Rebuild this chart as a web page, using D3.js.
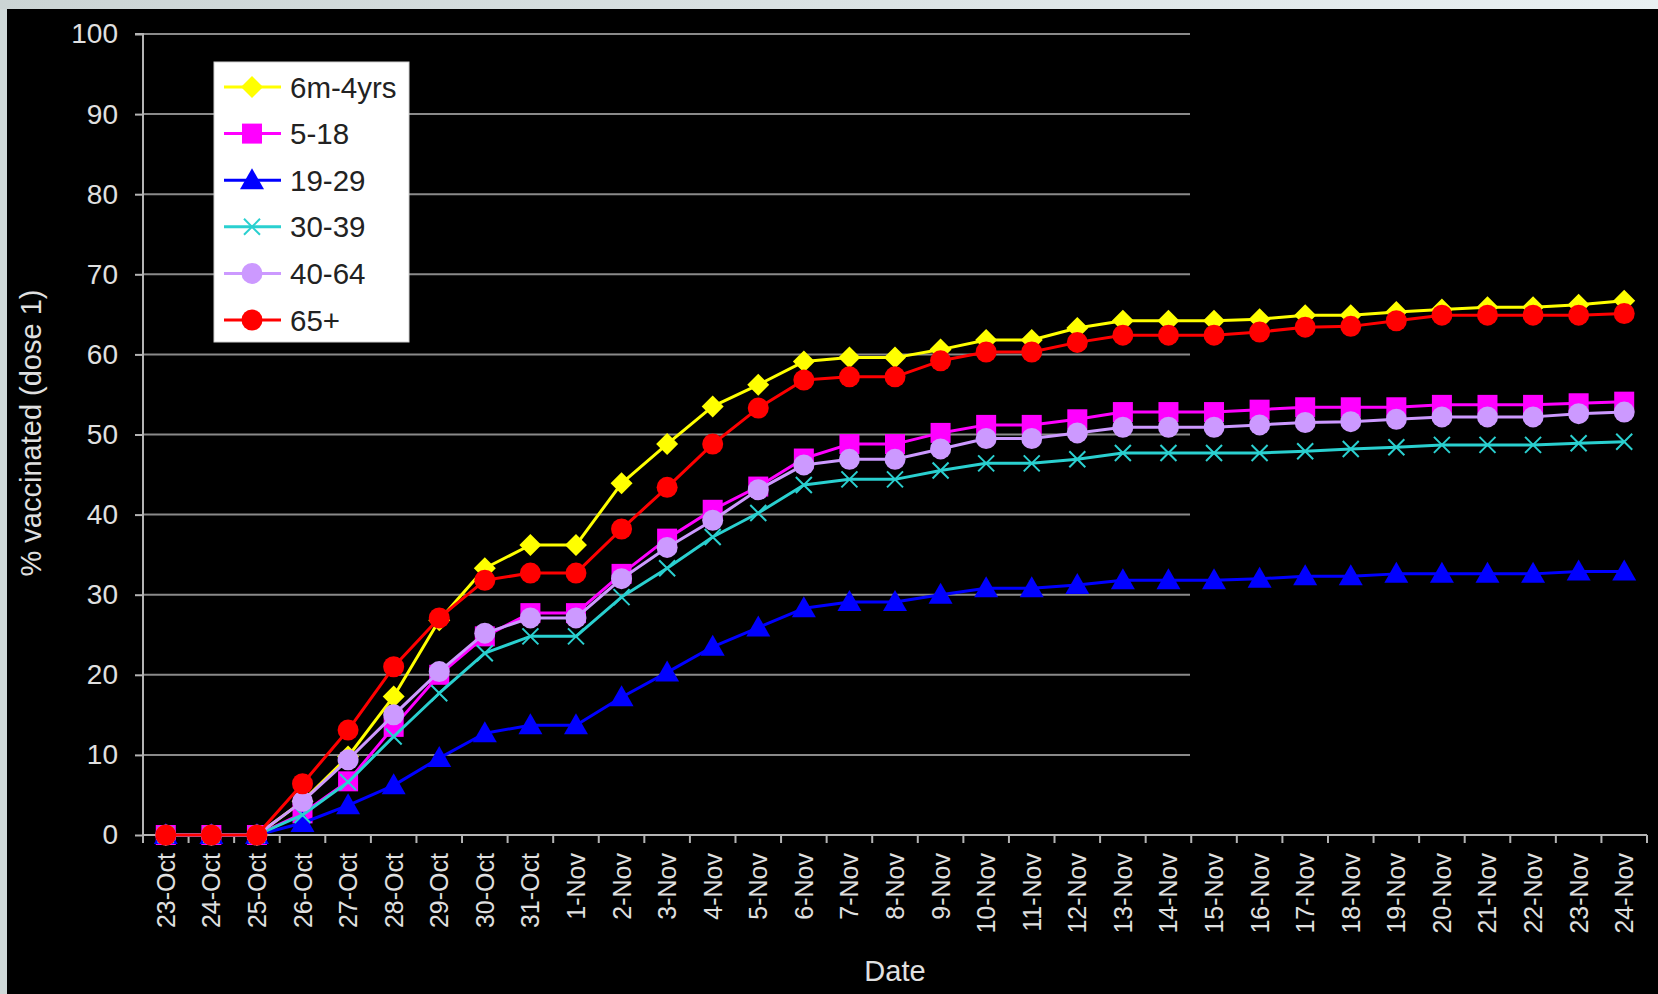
<!DOCTYPE html>
<html>
<head>
<meta charset="utf-8">
<script src="https://cdn.jsdelivr.net/npm/d3@7"></script>
<style>
  html, body { margin: 0; padding: 0; background: #cfd8d8; }
  svg { display: block; font-family: "Liberation Sans", Arial, Helvetica, sans-serif; }
</style>
</head>
<body>
<svg id="chart" width="1658" height="994"></svg>
<script>
// ---- data ----
const dates = ["23-Oct","24-Oct","25-Oct","26-Oct","27-Oct","28-Oct","29-Oct","30-Oct","31-Oct",
  "1-Nov","2-Nov","3-Nov","4-Nov","5-Nov","6-Nov","7-Nov","8-Nov","9-Nov","10-Nov","11-Nov","12-Nov",
  "13-Nov","14-Nov","15-Nov","16-Nov","17-Nov","18-Nov","19-Nov","20-Nov","21-Nov","22-Nov","23-Nov","24-Nov"];

const seriesNames = ["6m-4yrs","5-18","19-29","30-39","40-64","65+"];

const age6m4 = [0,0,0,4.2,9.8,17.3,26.8,33.3,36.2,36.2,43.9,48.8,53.5,56.2,59.1,59.6,59.6,60.6,61.8,61.8,63.3,64.2,64.2,64.2,64.4,64.9,64.9,65.3,65.6,65.9,65.9,66.2,66.7];
const age5to18 = [0,0,0,2.7,6.7,13.5,20.0,24.8,27.7,27.7,32.6,37.0,40.6,43.5,47.0,48.8,48.8,50.2,51.2,51.2,51.9,52.8,52.8,52.8,53.1,53.4,53.4,53.4,53.7,53.7,53.7,53.9,54.1];
const age19to29 = [0,0,0,1.5,3.7,6.2,9.6,12.7,13.7,13.7,17.2,20.3,23.5,25.9,28.3,29.1,29.1,30.0,30.8,30.8,31.2,31.8,31.8,31.8,32.0,32.3,32.3,32.6,32.6,32.6,32.6,32.9,32.9];
const age30to39 = [0,0,0,2.5,6.6,12.3,17.7,22.7,24.8,24.8,29.7,33.3,37.2,40.2,43.7,44.4,44.4,45.5,46.4,46.4,46.9,47.7,47.7,47.7,47.7,47.9,48.2,48.4,48.7,48.7,48.7,48.9,49.1];
const age40to64 = [0,0,0,4.2,9.4,15.0,20.4,25.2,27.1,27.1,32.0,35.9,39.3,43.1,46.2,46.9,46.9,48.2,49.5,49.5,50.2,50.9,50.9,50.9,51.2,51.5,51.6,51.9,52.2,52.2,52.2,52.6,52.8];
const age65plus = [0,0,0,6.4,13.1,21.0,27.1,31.8,32.7,32.7,38.2,43.4,48.8,53.3,56.8,57.2,57.2,59.2,60.3,60.3,61.5,62.4,62.4,62.4,62.8,63.4,63.5,64.2,64.9,64.9,64.9,64.9,65.1];

const yTicks = [0,10,20,30,40,50,60,70,80,90,100];
const yTitle = "% vaccinated (dose 1)";
const xTitle = "Date";

(function () {
// ---- styles ----
const seriesValues = [age6m4, age5to18, age19to29, age30to39, age40to64, age65plus];
const colors = ["#ffff00", "#ff00ff", "#0000ff", "#2ad0d0", "#cc99ff", "#ff0000"];
const shapes = ["diamond", "square", "triangle", "x", "circle", "circle"];

const W = 1658, H = 994;
const svg = d3.select("#chart");

// frame
svg.append("rect").attr("x", 0).attr("y", 0).attr("width", W).attr("height", H).attr("fill", "#cfd8d8");
const topGrad = svg.append("defs").append("linearGradient").attr("id", "tg");
topGrad.append("stop").attr("offset", "0%").attr("stop-color", "#cbd4d4");
topGrad.append("stop").attr("offset", "100%").attr("stop-color", "#e9f0f2");
svg.append("rect").attr("x", 0).attr("y", 0).attr("width", W).attr("height", 9).attr("fill", "url(#tg)");
svg.append("rect").attr("x", 7).attr("y", 9).attr("width", W - 7).attr("height", H - 9).attr("fill", "#000");

const pLeft = 143, pRight = 1647, pTop = 34, pBottom = 835;
const x = d3.scaleBand().domain(dates).range([pLeft, pRight]).paddingInner(0).paddingOuter(0);
const y = d3.scaleLinear().domain([0, 100]).range([pBottom, pTop]);
const cx = d => x(d) + x.bandwidth() / 2;

// gridlines (stop short as in the original)
svg.append("g").selectAll("line").data(yTicks.filter(t => t > 0)).join("line")
  .attr("x1", pLeft).attr("x2", 1190)
  .attr("y1", d => y(d)).attr("y2", d => y(d))
  .attr("stroke", "#8a8a8a").attr("stroke-width", 2);

// y axis
const yAxis = d3.axisLeft(y).tickValues(yTicks).tickSize(8).tickPadding(17).tickFormat(d3.format("d"));
const gy = svg.append("g").attr("transform", `translate(${pLeft},0)`).call(yAxis);
gy.select(".domain").attr("stroke", "#b4b4b4").attr("stroke-width", 2).attr("d", `M-8,${pTop}H0V${pBottom}`);
gy.selectAll(".tick line").attr("stroke", "#b4b4b4").attr("stroke-width", 2);
gy.selectAll(".tick text").attr("fill", "#e0e0e0").attr("font-size", 28).attr("font-family", "Liberation Sans, Arial, sans-serif");

// x axis
const xAxis = d3.axisBottom(x).tickSize(0).tickPadding(0);
const gx = svg.append("g").attr("transform", `translate(0,${pBottom})`).call(xAxis);
gx.select(".domain").attr("stroke", "#b4b4b4").attr("stroke-width", 2).attr("d", `M${pLeft},0H${pRight}`);
gx.selectAll(".tick text")
  .attr("fill", "#e0e0e0").attr("font-size", 25).attr("font-family", "Liberation Sans, Arial, sans-serif")
  .attr("text-anchor", "end").attr("dominant-baseline", "central")
  .attr("transform", "translate(0,18) rotate(-90)").attr("x", 0).attr("y", 0).attr("dy", null);
// tick marks between categories
const boundaries = dates.map(d => x(d)).concat([pRight]);
svg.append("g").selectAll("line").data(boundaries).join("line")
  .attr("x1", d => d).attr("x2", d => d).attr("y1", pBottom).attr("y2", pBottom + 8)
  .attr("stroke", "#b4b4b4").attr("stroke-width", 2);

// titles
svg.append("text").attr("transform", `translate(31,433) rotate(-90)`)
  .attr("text-anchor", "middle").attr("dominant-baseline", "central")
  .attr("fill", "#e0e0e0").attr("font-size", 29).text(yTitle);
svg.append("text").attr("x", 895).attr("y", 981)
  .attr("text-anchor", "middle").attr("fill", "#e0e0e0").attr("font-size", 29).text(xTitle);

// marker drawing
function drawMarker(g, shape, color, px, py) {
  if (shape === "diamond") {
    g.append("path").attr("d", `M${px},${py - 11}L${px + 11},${py}L${px},${py + 11}L${px - 11},${py}Z`).attr("fill", color);
  } else if (shape === "square") {
    g.append("rect").attr("x", px - 10).attr("y", py - 10).attr("width", 20).attr("height", 20).attr("fill", color);
  } else if (shape === "triangle") {
    g.append("path").attr("d", `M${px},${py - 12}L${px + 12},${py + 9}L${px - 12},${py + 9}Z`).attr("fill", color);
  } else if (shape === "x") {
    g.append("path").attr("d", `M${px - 8},${py - 8}L${px + 8},${py + 8}M${px - 8},${py + 8}L${px + 8},${py - 8}`)
      .attr("stroke", color).attr("stroke-width", 2);
  } else {
    g.append("circle").attr("cx", px).attr("cy", py).attr("r", 10.5).attr("fill", color);
  }
}

// series
const line = d3.line().x((v, i) => cx(dates[i])).y(v => y(v));
seriesValues.forEach((vals, s) => {
  const g = svg.append("g");
  g.append("path").datum(vals).attr("d", line).attr("fill", "none")
    .attr("stroke", colors[s]).attr("stroke-width", 3).attr("stroke-linejoin", "round");
  vals.forEach((v, i) => drawMarker(g, shapes[s], colors[s], cx(dates[i]), y(v)));
});

// legend
const lg = svg.append("g");
lg.append("rect").attr("x", 214).attr("y", 62).attr("width", 195).attr("height", 280)
  .attr("fill", "#ffffff").attr("stroke", "#d0d0d0").attr("stroke-width", 1);
seriesNames.forEach((name, s) => {
  const ry = 87 + s * 46.6;
  lg.append("line").attr("x1", 224).attr("x2", 281).attr("y1", ry).attr("y2", ry)
    .attr("stroke", colors[s]).attr("stroke-width", 3);
  drawMarker(lg, shapes[s], colors[s], 252, ry);
  lg.append("text").attr("x", 290).attr("y", ry).attr("dominant-baseline", "central")
    .attr("fill", "#222").attr("font-size", 29.5).text(name);
});
})();
</script>
</body>
</html>
